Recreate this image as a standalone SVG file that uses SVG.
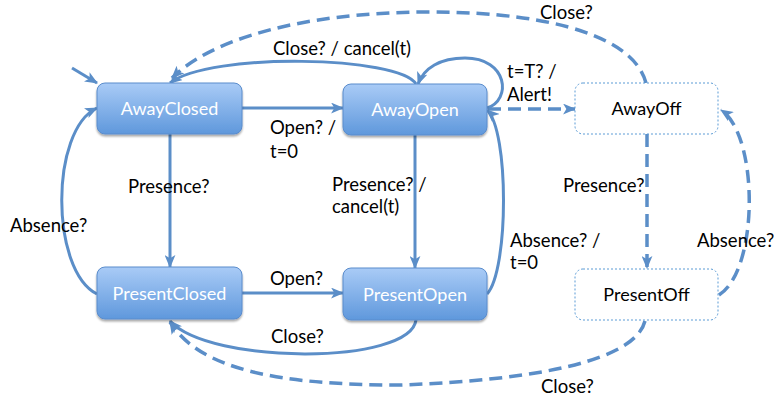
<svg xmlns="http://www.w3.org/2000/svg" width="774" height="398" viewBox="0 0 774 398">
<defs>
<linearGradient id="g" x1="0" y1="0" x2="0" y2="1">
<stop offset="0" stop-color="#a9cbf6"/>
<stop offset="1" stop-color="#5f98dc"/>
</linearGradient>
<filter id="sh" x="-10%" y="-10%" width="120%" height="130%">
<feGaussianBlur in="SourceAlpha" stdDeviation="1.2"/>
<feOffset dx="0" dy="1.5"/>
<feComponentTransfer><feFuncA type="linear" slope="0.35"/></feComponentTransfer>
<feMerge><feMergeNode/><feMergeNode in="SourceGraphic"/></feMerge>
</filter>
<marker id="ah" viewBox="0 0 12 10" refX="11" refY="5" markerWidth="13" markerHeight="11" markerUnits="userSpaceOnUse" orient="auto">
<path d="M0,0 L12,5 L0,10 L3,5 z" fill="#5b8ec8"/>
</marker>
</defs>
<style>
.n rect{fill:url(#g);stroke:#5a8ccc;stroke-width:1;filter:url(#sh)}
.n text{fill:#fff;font-family:Lato,"Open Sans",sans-serif;font-size:18px;text-anchor:middle}
.o rect{fill:#fff;stroke:#5b9bd5;stroke-width:1;stroke-dasharray:2 2}
.o text{fill:#000;font-family:Lato,"Open Sans",sans-serif;font-size:18px;text-anchor:middle}
.c path{fill:none;stroke:#5b8ec8;stroke-width:3;marker-end:url(#ah)}
.c path.d{stroke-width:3.5;stroke-dasharray:13 7}
.l text{fill:#000;font-family:Lato,"Open Sans",sans-serif;font-size:18.5px}
</style>
<g id="connectors" class="c">
<path d="M72,68 L97,83"/>
<path d="M242,108 L343,108"/>
<path d="M416,84 C400,56 210,52 170,83"/>
<path d="M487,108 C512,100 508,58 465,58 C440,58 424,68 418,84"/>
<path d="M170,134 L170,267"/>
<path d="M97,294 C50,270 50,130 97,108"/>
<path d="M242,293 L343,293"/>
<path d="M416,320 C410,365 210,365 170,321"/>
<path d="M415,135 L415,268"/>
<path d="M487,294 C509,270 509,130 487,110"/>
<path class="d" d="M488,109 L575,109"/>
<path class="d" d="M646,83 C635,40 560,12 430,12 C300,12 210,40 172,78"/>
<path class="d" d="M647,134 L647,268"/>
<path class="d" d="M719,295 C759,270 759,135 721,110"/>
<path class="d" d="M645,321 C635,360 540,380 400,385 C280,385 200,370 170,322"/>
</g>
<g id="AwayClosed" class="n"><rect x="97" y="83" width="145" height="51" rx="8"/><text x="169.5" y="115">AwayClosed</text></g>
<g id="AwayOpen" class="n"><rect x="343" y="84" width="144" height="51" rx="8"/><text x="415" y="116">AwayOpen</text></g>
<g id="PresentClosed" class="n"><rect x="97" y="267" width="145" height="52" rx="8"/><text x="169.5" y="300">PresentClosed</text></g>
<g id="PresentOpen" class="n"><rect x="343" y="268" width="144" height="52" rx="8"/><text x="415" y="301">PresentOpen</text></g>
<g id="AwayOff" class="o"><rect x="575" y="83" width="143" height="51" rx="8"/><text x="646.5" y="115">AwayOff</text></g>
<g id="PresentOff" class="o"><rect x="575" y="269" width="143" height="51" rx="8"/><text x="646.5" y="301">PresentOff</text></g>
<g id="labels" class="l">
<text x="273" y="55">Close? / cancel(t)</text>
<text x="540" y="19">Close?</text>
<text x="507" y="78">t=T? /</text>
<text x="507" y="101">Alert!</text>
<text x="270" y="134">Open? /</text>
<text x="270" y="158">t=0</text>
<text x="128" y="193">Presence?</text>
<text x="10" y="232">Absence?</text>
<text x="332" y="191">Presence? /</text>
<text x="332" y="213">cancel(t)</text>
<text x="510" y="247">Absence? /</text>
<text x="510" y="269">t=0</text>
<text x="563" y="192">Presence?</text>
<text x="697" y="247">Absence?</text>
<text x="270" y="285">Open?</text>
<text x="271" y="343">Close?</text>
<text x="541" y="393">Close?</text>
</g>
</svg>
